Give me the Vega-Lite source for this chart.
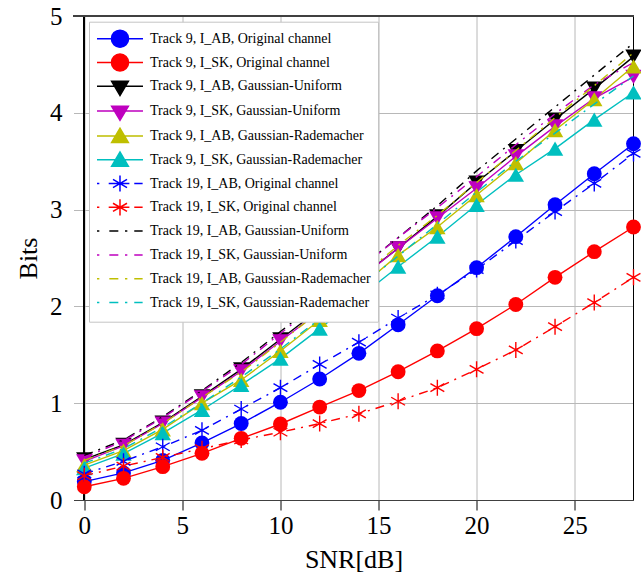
{
  "$schema": "https://vega.github.io/schema/vega-lite/v6.json",
  "width": 560,
  "height": 484,
  "autosize": {"type": "none"},
  "padding": {"left": 73.5, "top": 16, "right": 7.5, "bottom": 76},
  "config": {"view": {"stroke": null}, "font": "Liberation Serif"},
  "data": {"values": [
    {"snr":0,"bits":0.19,"series":"Track 9, I_AB, Original channel"},
    {"snr":2,"bits":0.28,"series":"Track 9, I_AB, Original channel"},
    {"snr":4,"bits":0.41,"series":"Track 9, I_AB, Original channel"},
    {"snr":6,"bits":0.59,"series":"Track 9, I_AB, Original channel"},
    {"snr":8,"bits":0.79,"series":"Track 9, I_AB, Original channel"},
    {"snr":10,"bits":1.01,"series":"Track 9, I_AB, Original channel"},
    {"snr":12,"bits":1.25,"series":"Track 9, I_AB, Original channel"},
    {"snr":14,"bits":1.515,"series":"Track 9, I_AB, Original channel"},
    {"snr":16,"bits":1.81,"series":"Track 9, I_AB, Original channel"},
    {"snr":18,"bits":2.11,"series":"Track 9, I_AB, Original channel"},
    {"snr":20,"bits":2.40,"series":"Track 9, I_AB, Original channel"},
    {"snr":22,"bits":2.72,"series":"Track 9, I_AB, Original channel"},
    {"snr":24,"bits":3.05,"series":"Track 9, I_AB, Original channel"},
    {"snr":26,"bits":3.37,"series":"Track 9, I_AB, Original channel"},
    {"snr":28,"bits":3.68,"series":"Track 9, I_AB, Original channel"},
    {"snr":0,"bits":0.137,"series":"Track 9, I_SK, Original channel"},
    {"snr":2,"bits":0.224,"series":"Track 9, I_SK, Original channel"},
    {"snr":4,"bits":0.344,"series":"Track 9, I_SK, Original channel"},
    {"snr":6,"bits":0.482,"series":"Track 9, I_SK, Original channel"},
    {"snr":8,"bits":0.637,"series":"Track 9, I_SK, Original channel"},
    {"snr":10,"bits":0.785,"series":"Track 9, I_SK, Original channel"},
    {"snr":12,"bits":0.96,"series":"Track 9, I_SK, Original channel"},
    {"snr":14,"bits":1.13,"series":"Track 9, I_SK, Original channel"},
    {"snr":16,"bits":1.325,"series":"Track 9, I_SK, Original channel"},
    {"snr":18,"bits":1.54,"series":"Track 9, I_SK, Original channel"},
    {"snr":20,"bits":1.77,"series":"Track 9, I_SK, Original channel"},
    {"snr":22,"bits":2.02,"series":"Track 9, I_SK, Original channel"},
    {"snr":24,"bits":2.30,"series":"Track 9, I_SK, Original channel"},
    {"snr":26,"bits":2.565,"series":"Track 9, I_SK, Original channel"},
    {"snr":28,"bits":2.82,"series":"Track 9, I_SK, Original channel"},
    {"snr":0,"bits":0.42,"series":"Track 9, I_AB, Gaussian-Uniform"},
    {"snr":2,"bits":0.57,"series":"Track 9, I_AB, Gaussian-Uniform"},
    {"snr":4,"bits":0.80,"series":"Track 9, I_AB, Gaussian-Uniform"},
    {"snr":6,"bits":1.07,"series":"Track 9, I_AB, Gaussian-Uniform"},
    {"snr":8,"bits":1.35,"series":"Track 9, I_AB, Gaussian-Uniform"},
    {"snr":10,"bits":1.66,"series":"Track 9, I_AB, Gaussian-Uniform"},
    {"snr":12,"bits":1.97,"series":"Track 9, I_AB, Gaussian-Uniform"},
    {"snr":14,"bits":2.29,"series":"Track 9, I_AB, Gaussian-Uniform"},
    {"snr":16,"bits":2.60,"series":"Track 9, I_AB, Gaussian-Uniform"},
    {"snr":18,"bits":2.93,"series":"Track 9, I_AB, Gaussian-Uniform"},
    {"snr":20,"bits":3.28,"series":"Track 9, I_AB, Gaussian-Uniform"},
    {"snr":22,"bits":3.605,"series":"Track 9, I_AB, Gaussian-Uniform"},
    {"snr":24,"bits":3.93,"series":"Track 9, I_AB, Gaussian-Uniform"},
    {"snr":26,"bits":4.25,"series":"Track 9, I_AB, Gaussian-Uniform"},
    {"snr":28,"bits":4.58,"series":"Track 9, I_AB, Gaussian-Uniform"},
    {"snr":0,"bits":0.40,"series":"Track 9, I_SK, Gaussian-Uniform"},
    {"snr":2,"bits":0.56,"series":"Track 9, I_SK, Gaussian-Uniform"},
    {"snr":4,"bits":0.79,"series":"Track 9, I_SK, Gaussian-Uniform"},
    {"snr":6,"bits":1.06,"series":"Track 9, I_SK, Gaussian-Uniform"},
    {"snr":8,"bits":1.33,"series":"Track 9, I_SK, Gaussian-Uniform"},
    {"snr":10,"bits":1.64,"series":"Track 9, I_SK, Gaussian-Uniform"},
    {"snr":12,"bits":1.95,"series":"Track 9, I_SK, Gaussian-Uniform"},
    {"snr":14,"bits":2.28,"series":"Track 9, I_SK, Gaussian-Uniform"},
    {"snr":16,"bits":2.60,"series":"Track 9, I_SK, Gaussian-Uniform"},
    {"snr":18,"bits":2.91,"series":"Track 9, I_SK, Gaussian-Uniform"},
    {"snr":20,"bits":3.22,"series":"Track 9, I_SK, Gaussian-Uniform"},
    {"snr":22,"bits":3.55,"series":"Track 9, I_SK, Gaussian-Uniform"},
    {"snr":24,"bits":3.86,"series":"Track 9, I_SK, Gaussian-Uniform"},
    {"snr":26,"bits":4.15,"series":"Track 9, I_SK, Gaussian-Uniform"},
    {"snr":28,"bits":4.37,"series":"Track 9, I_SK, Gaussian-Uniform"},
    {"snr":0,"bits":0.36,"series":"Track 9, I_AB, Gaussian-Rademacher"},
    {"snr":2,"bits":0.51,"series":"Track 9, I_AB, Gaussian-Rademacher"},
    {"snr":4,"bits":0.73,"series":"Track 9, I_AB, Gaussian-Rademacher"},
    {"snr":6,"bits":1.00,"series":"Track 9, I_AB, Gaussian-Rademacher"},
    {"snr":8,"bits":1.24,"series":"Track 9, I_AB, Gaussian-Rademacher"},
    {"snr":10,"bits":1.54,"series":"Track 9, I_AB, Gaussian-Rademacher"},
    {"snr":12,"bits":1.86,"series":"Track 9, I_AB, Gaussian-Rademacher"},
    {"snr":14,"bits":2.19,"series":"Track 9, I_AB, Gaussian-Rademacher"},
    {"snr":16,"bits":2.53,"series":"Track 9, I_AB, Gaussian-Rademacher"},
    {"snr":18,"bits":2.82,"series":"Track 9, I_AB, Gaussian-Rademacher"},
    {"snr":20,"bits":3.15,"series":"Track 9, I_AB, Gaussian-Rademacher"},
    {"snr":22,"bits":3.48,"series":"Track 9, I_AB, Gaussian-Rademacher"},
    {"snr":24,"bits":3.82,"series":"Track 9, I_AB, Gaussian-Rademacher"},
    {"snr":26,"bits":4.14,"series":"Track 9, I_AB, Gaussian-Rademacher"},
    {"snr":28,"bits":4.48,"series":"Track 9, I_AB, Gaussian-Rademacher"},
    {"snr":0,"bits":0.33,"series":"Track 9, I_SK, Gaussian-Rademacher"},
    {"snr":2,"bits":0.48,"series":"Track 9, I_SK, Gaussian-Rademacher"},
    {"snr":4,"bits":0.69,"series":"Track 9, I_SK, Gaussian-Rademacher"},
    {"snr":6,"bits":0.93,"series":"Track 9, I_SK, Gaussian-Rademacher"},
    {"snr":8,"bits":1.19,"series":"Track 9, I_SK, Gaussian-Rademacher"},
    {"snr":10,"bits":1.46,"series":"Track 9, I_SK, Gaussian-Rademacher"},
    {"snr":12,"bits":1.77,"series":"Track 9, I_SK, Gaussian-Rademacher"},
    {"snr":14,"bits":2.09,"series":"Track 9, I_SK, Gaussian-Rademacher"},
    {"snr":16,"bits":2.41,"series":"Track 9, I_SK, Gaussian-Rademacher"},
    {"snr":18,"bits":2.72,"series":"Track 9, I_SK, Gaussian-Rademacher"},
    {"snr":20,"bits":3.05,"series":"Track 9, I_SK, Gaussian-Rademacher"},
    {"snr":22,"bits":3.36,"series":"Track 9, I_SK, Gaussian-Rademacher"},
    {"snr":24,"bits":3.63,"series":"Track 9, I_SK, Gaussian-Rademacher"},
    {"snr":26,"bits":3.93,"series":"Track 9, I_SK, Gaussian-Rademacher"},
    {"snr":28,"bits":4.21,"series":"Track 9, I_SK, Gaussian-Rademacher"},
    {"snr":0,"bits":0.27,"series":"Track 19, I_AB, Original channel"},
    {"snr":2,"bits":0.40,"series":"Track 19, I_AB, Original channel"},
    {"snr":4,"bits":0.55,"series":"Track 19, I_AB, Original channel"},
    {"snr":6,"bits":0.72,"series":"Track 19, I_AB, Original channel"},
    {"snr":8,"bits":0.94,"series":"Track 19, I_AB, Original channel"},
    {"snr":10,"bits":1.16,"series":"Track 19, I_AB, Original channel"},
    {"snr":12,"bits":1.40,"series":"Track 19, I_AB, Original channel"},
    {"snr":14,"bits":1.63,"series":"Track 19, I_AB, Original channel"},
    {"snr":16,"bits":1.88,"series":"Track 19, I_AB, Original channel"},
    {"snr":18,"bits":2.12,"series":"Track 19, I_AB, Original channel"},
    {"snr":20,"bits":2.38,"series":"Track 19, I_AB, Original channel"},
    {"snr":22,"bits":2.68,"series":"Track 19, I_AB, Original channel"},
    {"snr":24,"bits":2.98,"series":"Track 19, I_AB, Original channel"},
    {"snr":26,"bits":3.27,"series":"Track 19, I_AB, Original channel"},
    {"snr":28,"bits":3.58,"series":"Track 19, I_AB, Original channel"},
    {"snr":0,"bits":0.25,"series":"Track 19, I_SK, Original channel"},
    {"snr":2,"bits":0.35,"series":"Track 19, I_SK, Original channel"},
    {"snr":4,"bits":0.44,"series":"Track 19, I_SK, Original channel"},
    {"snr":6,"bits":0.53,"series":"Track 19, I_SK, Original channel"},
    {"snr":8,"bits":0.62,"series":"Track 19, I_SK, Original channel"},
    {"snr":10,"bits":0.70,"series":"Track 19, I_SK, Original channel"},
    {"snr":12,"bits":0.79,"series":"Track 19, I_SK, Original channel"},
    {"snr":14,"bits":0.89,"series":"Track 19, I_SK, Original channel"},
    {"snr":16,"bits":1.02,"series":"Track 19, I_SK, Original channel"},
    {"snr":18,"bits":1.16,"series":"Track 19, I_SK, Original channel"},
    {"snr":20,"bits":1.35,"series":"Track 19, I_SK, Original channel"},
    {"snr":22,"bits":1.55,"series":"Track 19, I_SK, Original channel"},
    {"snr":24,"bits":1.79,"series":"Track 19, I_SK, Original channel"},
    {"snr":26,"bits":2.04,"series":"Track 19, I_SK, Original channel"},
    {"snr":28,"bits":2.30,"series":"Track 19, I_SK, Original channel"},
    {"snr":0,"bits":0.46,"series":"Track 19, I_AB, Gaussian-Uniform"},
    {"snr":2,"bits":0.62,"series":"Track 19, I_AB, Gaussian-Uniform"},
    {"snr":4,"bits":0.86,"series":"Track 19, I_AB, Gaussian-Uniform"},
    {"snr":6,"bits":1.13,"series":"Track 19, I_AB, Gaussian-Uniform"},
    {"snr":8,"bits":1.42,"series":"Track 19, I_AB, Gaussian-Uniform"},
    {"snr":10,"bits":1.74,"series":"Track 19, I_AB, Gaussian-Uniform"},
    {"snr":12,"bits":2.06,"series":"Track 19, I_AB, Gaussian-Uniform"},
    {"snr":14,"bits":2.39,"series":"Track 19, I_AB, Gaussian-Uniform"},
    {"snr":16,"bits":2.71,"series":"Track 19, I_AB, Gaussian-Uniform"},
    {"snr":18,"bits":3.04,"series":"Track 19, I_AB, Gaussian-Uniform"},
    {"snr":20,"bits":3.40,"series":"Track 19, I_AB, Gaussian-Uniform"},
    {"snr":22,"bits":3.73,"series":"Track 19, I_AB, Gaussian-Uniform"},
    {"snr":24,"bits":4.06,"series":"Track 19, I_AB, Gaussian-Uniform"},
    {"snr":26,"bits":4.39,"series":"Track 19, I_AB, Gaussian-Uniform"},
    {"snr":28,"bits":4.72,"series":"Track 19, I_AB, Gaussian-Uniform"},
    {"snr":0,"bits":0.44,"series":"Track 19, I_SK, Gaussian-Uniform"},
    {"snr":2,"bits":0.61,"series":"Track 19, I_SK, Gaussian-Uniform"},
    {"snr":4,"bits":0.85,"series":"Track 19, I_SK, Gaussian-Uniform"},
    {"snr":6,"bits":1.12,"series":"Track 19, I_SK, Gaussian-Uniform"},
    {"snr":8,"bits":1.40,"series":"Track 19, I_SK, Gaussian-Uniform"},
    {"snr":10,"bits":1.72,"series":"Track 19, I_SK, Gaussian-Uniform"},
    {"snr":12,"bits":2.04,"series":"Track 19, I_SK, Gaussian-Uniform"},
    {"snr":14,"bits":2.38,"series":"Track 19, I_SK, Gaussian-Uniform"},
    {"snr":16,"bits":2.71,"series":"Track 19, I_SK, Gaussian-Uniform"},
    {"snr":18,"bits":3.02,"series":"Track 19, I_SK, Gaussian-Uniform"},
    {"snr":20,"bits":3.34,"series":"Track 19, I_SK, Gaussian-Uniform"},
    {"snr":22,"bits":3.67,"series":"Track 19, I_SK, Gaussian-Uniform"},
    {"snr":24,"bits":3.99,"series":"Track 19, I_SK, Gaussian-Uniform"},
    {"snr":26,"bits":4.29,"series":"Track 19, I_SK, Gaussian-Uniform"},
    {"snr":28,"bits":4.52,"series":"Track 19, I_SK, Gaussian-Uniform"},
    {"snr":0,"bits":0.41,"series":"Track 19, I_AB, Gaussian-Rademacher"},
    {"snr":2,"bits":0.56,"series":"Track 19, I_AB, Gaussian-Rademacher"},
    {"snr":4,"bits":0.79,"series":"Track 19, I_AB, Gaussian-Rademacher"},
    {"snr":6,"bits":1.06,"series":"Track 19, I_AB, Gaussian-Rademacher"},
    {"snr":8,"bits":1.32,"series":"Track 19, I_AB, Gaussian-Rademacher"},
    {"snr":10,"bits":1.63,"series":"Track 19, I_AB, Gaussian-Rademacher"},
    {"snr":12,"bits":1.95,"series":"Track 19, I_AB, Gaussian-Rademacher"},
    {"snr":14,"bits":2.29,"series":"Track 19, I_AB, Gaussian-Rademacher"},
    {"snr":16,"bits":2.63,"series":"Track 19, I_AB, Gaussian-Rademacher"},
    {"snr":18,"bits":2.94,"series":"Track 19, I_AB, Gaussian-Rademacher"},
    {"snr":20,"bits":3.28,"series":"Track 19, I_AB, Gaussian-Rademacher"},
    {"snr":22,"bits":3.61,"series":"Track 19, I_AB, Gaussian-Rademacher"},
    {"snr":24,"bits":3.95,"series":"Track 19, I_AB, Gaussian-Rademacher"},
    {"snr":26,"bits":4.28,"series":"Track 19, I_AB, Gaussian-Rademacher"},
    {"snr":28,"bits":4.62,"series":"Track 19, I_AB, Gaussian-Rademacher"},
    {"snr":0,"bits":0.38,"series":"Track 19, I_SK, Gaussian-Rademacher"},
    {"snr":2,"bits":0.53,"series":"Track 19, I_SK, Gaussian-Rademacher"},
    {"snr":4,"bits":0.75,"series":"Track 19, I_SK, Gaussian-Rademacher"},
    {"snr":6,"bits":1.00,"series":"Track 19, I_SK, Gaussian-Rademacher"},
    {"snr":8,"bits":1.27,"series":"Track 19, I_SK, Gaussian-Rademacher"},
    {"snr":10,"bits":1.56,"series":"Track 19, I_SK, Gaussian-Rademacher"},
    {"snr":12,"bits":1.87,"series":"Track 19, I_SK, Gaussian-Rademacher"},
    {"snr":14,"bits":2.20,"series":"Track 19, I_SK, Gaussian-Rademacher"},
    {"snr":16,"bits":2.52,"series":"Track 19, I_SK, Gaussian-Rademacher"},
    {"snr":18,"bits":2.85,"series":"Track 19, I_SK, Gaussian-Rademacher"},
    {"snr":20,"bits":3.18,"series":"Track 19, I_SK, Gaussian-Rademacher"},
    {"snr":22,"bits":3.50,"series":"Track 19, I_SK, Gaussian-Rademacher"},
    {"snr":24,"bits":3.79,"series":"Track 19, I_SK, Gaussian-Rademacher"},
    {"snr":26,"bits":4.09,"series":"Track 19, I_SK, Gaussian-Rademacher"},
    {"snr":28,"bits":4.38,"series":"Track 19, I_SK, Gaussian-Rademacher"}
  ]},
  "encoding": {
    "x": {"field": "snr", "type": "quantitative",
      "scale": {"domain": [-0.55, 28], "nice": false, "zero": false},
      "axis": {"values": [0, 5, 10, 15, 20, 25], "title": "SNR[dB]", "grid": true, "gridColor": "#b8b8b8",
        "domainColor": "#404040", "tickColor": "#000000", "tickSize": 10, "labelFontSize": 25, "labelPadding": 3,
        "labelFont": "Liberation Serif", "labelColor": "#000000", "labelFlush": false,
        "titleFont": "Liberation Serif", "titleFontSize": 26, "titleFontWeight": "normal", "titleColor": "#000000", "titlePadding": 8}},
    "y": {"field": "bits", "type": "quantitative",
      "scale": {"domain": [0, 5], "nice": false},
      "axis": {"values": [0, 1, 2, 3, 4, 5], "title": "Bits", "domain": false, "grid": true, "gridColor": "#b8b8b8",
        "ticks": false, "labelFontSize": 25, "labelPadding": 11.5,
        "labelFont": "Liberation Serif", "labelColor": "#000000", "labelFlush": false,
        "titleFont": "Liberation Serif", "titleFontSize": 26, "titleFontWeight": "normal", "titleColor": "#000000", "titlePadding": 8}}
  },
  "layer": [
    {"mark": {"type": "rule", "color": "#000000", "strokeWidth": 1}, "encoding": {"x": {"datum": 0}, "y": null}},
    {"mark": {"type": "rule", "color": "#000000", "strokeWidth": 1}, "encoding": {"x": {"datum": 28}, "y": null}},
    {"mark": {"type": "rule", "color": "#404040", "strokeWidth": 1}, "encoding": {"y": {"datum": 5}, "x": null}},
    {
      "transform": [{"filter": "indexof(datum.series, 'Track 9,') === 0"}],
      "mark": {"type": "line", "strokeWidth": 1.4},
      "encoding": {
        "color": {"field": "series", "type": "nominal",
          "scale": {
            "domain": ["Track 9, I_AB, Original channel", "Track 9, I_SK, Original channel", "Track 9, I_AB, Gaussian-Uniform", "Track 9, I_SK, Gaussian-Uniform", "Track 9, I_AB, Gaussian-Rademacher", "Track 9, I_SK, Gaussian-Rademacher", "Track 19, I_AB, Original channel", "Track 19, I_SK, Original channel", "Track 19, I_AB, Gaussian-Uniform", "Track 19, I_SK, Gaussian-Uniform", "Track 19, I_AB, Gaussian-Rademacher", "Track 19, I_SK, Gaussian-Rademacher"],
            "range": ["#0000ff", "#ff0000", "#000000", "#bf00bf", "#bfbf00", "#00bfbf", "#0000ff", "#ff0000", "#000000", "#bf00bf", "#bfbf00", "#00bfbf"]},
          "legend": {
            "orient": "none", "legendX": 15.5, "legendY": 5.7, "title": null,
            "fillColor": "#ffffff", "strokeColor": "#c4c4c4", "padding": 7,
            "labelFont": "Liberation Serif", "labelFontSize": 14, "labelColor": "#000000", "labelLimit": 500,
            "symbolSize": 324, "symbolStrokeWidth": 1.5, "rowPadding": -0.2, "labelOffset": 34,
            "encode": {"symbols": {"update": {
              "shape": {"signal": "['M1.555,-0.95M1.555,0.95M-1,0L4.11,0M0.605,0A0.95,0.95 0 1,0 2.505,0A0.95,0.95 0 1,0 0.605,0Z','M1.555,-0.95M1.555,0.95M-1,0L4.11,0M0.605,0A0.95,0.95 0 1,0 2.505,0A0.95,0.95 0 1,0 0.605,0Z','M1.555,-0.95M1.555,0.95M-1,0L4.11,0M0.625,-0.55L2.485,-0.55L1.555,1.03Z','M1.555,-0.95M1.555,0.95M-1,0L4.11,0M0.625,-0.55L2.485,-0.55L1.555,1.03Z','M1.555,-0.95M1.555,0.95M-1,0L4.11,0M0.625,0.74L2.485,0.74L1.555,-0.85Z','M1.555,-0.95M1.555,0.95M-1,0L4.11,0M0.625,0.74L2.485,0.74L1.555,-0.85Z','M1.555,-0.95M1.555,0.95M-1,0L-0.74,0M0.3,0L2.6,0M3.14,0L4.07,0M1.555,-0.9L1.555,0.9M0.776,-0.45L2.334,0.45M0.776,0.45L2.334,-0.45','M1.555,-0.95M1.555,0.95M-1,0L-0.74,0M0.3,0L2.6,0M3.14,0L4.07,0M1.555,-0.9L1.555,0.9M0.776,-0.45L2.334,0.45M0.776,0.45L2.334,-0.45','M1.555,-0.95M1.555,0.95M-1,0L-0.74,0M0.37,0L1.37,0M2.11,0L2.37,0M3.14,0L4.07,0','M1.555,-0.95M1.555,0.95M-1,0L-0.74,0M0.37,0L1.37,0M2.11,0L2.37,0M3.14,0L4.07,0','M1.555,-0.95M1.555,0.95M-1,0L-0.74,0M0.37,0L1.37,0M2.11,0L2.37,0M3.14,0L4.07,0','M1.555,-0.95M1.555,0.95M-1,0L-0.74,0M0.37,0L1.37,0M2.11,0L2.37,0M3.14,0L4.07,0'][indexof(['Track 9, I_AB, Original channel','Track 9, I_SK, Original channel','Track 9, I_AB, Gaussian-Uniform','Track 9, I_SK, Gaussian-Uniform','Track 9, I_AB, Gaussian-Rademacher','Track 9, I_SK, Gaussian-Rademacher','Track 19, I_AB, Original channel','Track 19, I_SK, Original channel','Track 19, I_AB, Gaussian-Uniform','Track 19, I_SK, Gaussian-Uniform','Track 19, I_AB, Gaussian-Rademacher','Track 19, I_SK, Gaussian-Rademacher'], datum.value)]"},
              "fill": {"scale": "color", "field": "value"},
              "stroke": {"scale": "color", "field": "value"},
              "strokeWidth": {"value": 1.5},
              "strokeDash": {"value": []},
              "opacity": {"value": 1},
              "size": {"value": 324}
            }}}
          }
        }
      }
    },
    {
      "transform": [{"filter": "test(/^Track 9,.*Original/, datum.series)"}],
      "mark": {"type": "point", "filled": true, "opacity": 1, "size": 220},
      "encoding": {
        "color": {"field": "series", "type": "nominal"},
        "shape": {"field": "series", "type": "nominal", "legend": null,
          "scale": {
            "domain": ["Track 9, I_AB, Original channel", "Track 9, I_SK, Original channel", "Track 9, I_AB, Gaussian-Uniform", "Track 9, I_SK, Gaussian-Uniform", "Track 9, I_AB, Gaussian-Rademacher", "Track 9, I_SK, Gaussian-Rademacher", "Track 19, I_AB, Original channel", "Track 19, I_SK, Original channel"],
            "range": ["circle", "circle", "triangle-down", "triangle-down", "triangle-up", "triangle-up", "M0,-1L0,1M-0.866,-0.5L0.866,0.5M-0.866,0.5L0.866,-0.5", "M0,-1L0,1M-0.866,-0.5L0.866,0.5M-0.866,0.5L0.866,-0.5"]}}
      }
    },
    {
      "transform": [{"filter": "test(/^Track 9,.*Gaussian/, datum.series)"}],
      "mark": {"type": "point", "filled": true, "opacity": 1, "size": 270},
      "encoding": {
        "color": {"field": "series", "type": "nominal"},
        "shape": {"field": "series", "type": "nominal", "legend": null}
      }
    },
    {
      "transform": [{"filter": "indexof(datum.series, 'Track 19,') === 0"}],
      "mark": {"type": "line", "strokeWidth": 1.4, "strokeDash": [9, 6, 2, 6]},
      "encoding": {
        "color": {"field": "series", "type": "nominal"}
      }
    },
    {
      "transform": [{"filter": "test(/^Track 19,.*Original/, datum.series)"}],
      "mark": {"type": "point", "filled": false, "opacity": 1, "size": 256, "strokeWidth": 1.4},
      "encoding": {
        "color": {"field": "series", "type": "nominal"},
        "shape": {"field": "series", "type": "nominal", "legend": null}
      }
    }
  ]
}
